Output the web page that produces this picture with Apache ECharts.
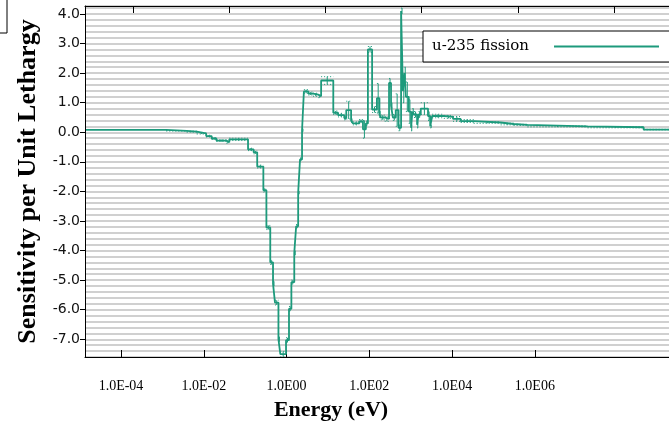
<!DOCTYPE html>
<html>
<head>
<meta charset="utf-8">
<script src="https://cdn.jsdelivr.net/npm/echarts@6/dist/echarts.min.js"></script>
<style>
  html, body { margin: 0; padding: 0; background: #fff; }
  #chart { width: 669px; height: 426px; }
</style>
</head>
<body>
<div id="chart"></div>
<script>
// 分组下限能量 (eV)，灵敏度，误差
var binLow = [
  1.0e-5, 4.9e-4, 1.3e-3, 2.1e-3, 3.3e-3, 4.3e-3, 5.4e-3, 8.7e-3, 1.0e-2, 2.45e-2,
  3.2e-2, 3.8e-2, 5.1e-2, 5.9e-2, 7.1e-2, 8.1e-2, 8.9e-2, 0.105, 0.115, 0.151,
  0.174, 0.195, 0.224, 0.245, 0.27, 0.295, 0.325, 0.355, 0.44, 0.55,
  0.71, 0.81, 1.45, 1.82, 2.45, 2.7, 3.4, 3.7, 5.0, 6.0,
  6.9, 7.6, 9.3, 11.7, 13.2, 14.1, 17.0, 20.9, 23.0, 25.1,
  28.8, 33.0, 37.2, 40.7, 44.0, 46.8, 53.7, 60.0, 64.0, 69.2,
  80.0, 86.0, 95.5, 135, 150, 165, 288, 447, 646, 1200,
  4370, 8130, 15800, 2.8e5, 4.1e6
];
var binTop = 2.0e7;
var sensitivity = [
  0.08, 0.05, 0.02, -0.04, -0.13, -0.21, -0.28, -0.34, -0.24, -0.58,
  -0.68, -1.16, -1.96, -3.22, -4.40, -5.12, -5.76, -7.0, -7.5, -7.03,
  -5.97, -5.07, -4.08, -3.18, -2.04, -0.92, 0.07, 1.38, 1.31, 1.27,
  1.22, 1.75, 0.66, 0.58, 0.48, 0.75, 0.4, 0.3, 0.37, 0.1,
  0.3, 2.8, 0.77, 1.15, 0.6, 0.5, 0.45, 1.67, 0.9, 0.5,
  0.75, 0.15, 4.1, 1.4, 2.0, 1.2, 0.7, 0.15, 0.7, 0.6,
  0.25, 0.6, 0.8, 0.55, 0.2, 0.55, 0.52, 0.45, 0.38, 0.33,
  0.28, 0.25, 0.2, 0.17, 0.09
];
var sensError = [
  0, 0.01, 0.02, 0.02, 0.03, 0.03, 0.03, 0.03, 0.04, 0.04,
  0.05, 0.05, 0.06, 0.07, 0.07, 0.08, 0.08, 0.08, 0.09, 0.08,
  0.08, 0.07, 0.07, 0.06, 0.05, 0.05, 0.05, 0.06, 0.05, 0.05,
  0.05, 0.13, 0.06, 0.06, 0.06, 0.3, 0.06, 0.05, 0.06, 0.3,
  0.08, 0.1, 0.1, 0.5, 0.1, 0.08, 0.08, 0.15, 0.1, 0.1,
  0.55, 0.1, 0.1, 0.4, 0.2, 0.5, 0.4, 0.1, 0.1, 0.1,
  0.1, 0.1, 0.2, 0.15, 0.05, 0.06, 0.05, 0.08, 0.05, 0.03,
  0.03, 0.02, 0.02, 0.02, 0.01
];

// 坐标轴刻度
var tickExps = [-4, -2, 0, 2, 4, 6];
var tickLabels = ['1.0E-04', '1.0E-02', '1.0E00', '1.0E02', '1.0E04', '1.0E06'];
var yTicks = [-7, -6, -5, -4, -3, -2, -1, 0, 1, 2, 3, 4];

var lineColor = '#1d9a7c';

// 阶梯线数据（对数能量）
var stepData = [];
var errData = [];
for (var i = 0; i < binLow.length; i++) {
  var lo = Math.log10(binLow[i]);
  var hi = Math.log10(i + 1 < binLow.length ? binLow[i + 1] : binTop);
  stepData.push([lo, sensitivity[i]]);
  if (sensError[i] > 0) {
    errData.push([lo, hi, sensitivity[i], sensError[i]]);
  }
}
stepData.push([Math.log10(binTop), sensitivity[sensitivity.length - 1]]);

function renderErrorBar(params, api) {
  var lo = api.value(0), hi = api.value(1), v = api.value(2), e = api.value(3);
  var mid = (lo + hi) / 2;
  var top = api.coord([mid, v + e]);
  var bot = api.coord([mid, v - e]);
  var a = api.coord([lo, v + e]), b = api.coord([hi, v + e]);
  var c = api.coord([lo, v - e]), d = api.coord([hi, v - e]);
  var dashed = { stroke: lineColor, lineWidth: 1, lineDash: [1, 2] };
  return {
    type: 'group',
    children: [
      { type: 'line', shape: { x1: top[0], y1: top[1], x2: bot[0], y2: bot[1] },
        style: { stroke: lineColor, lineWidth: 1 } },
      { type: 'line', shape: { x1: a[0], y1: a[1], x2: b[0], y2: b[1] }, style: dashed },
      { type: 'line', shape: { x1: c[0], y1: c[1], x2: d[0], y2: d[1] }, style: dashed }
    ]
  };
}

var chart = echarts.init(document.getElementById('chart'));

chart.setOption({
  animation: false,
  backgroundColor: '#fff',
  grid: { left: 85, right: 0, top: 6, bottom: 67.5 },
  graphic: [
    { type: 'rect', shape: { x: -5, y: -5, width: 12, height: 38 },
      style: { fill: '#fff', stroke: '#000', lineWidth: 1 } }
  ],
  legend: {
    left: 423,
    top: 31,
    align: 'right',
    icon: 'rect',
    itemWidth: 105,
    itemHeight: 2,
    padding: [8, 20, 8, 9],
    borderColor: '#000',
    borderWidth: 1,
    borderRadius: 0,
    backgroundColor: '#fff',
    textStyle: { fontFamily: 'DejaVu Serif', fontSize: 15, color: '#000', padding: [0, 20, 0, 0] },
    data: ['u-235 fission']
  },
  xAxis: [
    {
      // 下方刻度标签轴
      type: 'value',
      position: 'bottom',
      min: -4.87,
      max: 9.24,
      name: 'Energy (eV)',
      nameLocation: 'middle',
      nameGap: 42,
      nameTextStyle: {
        fontFamily: 'Liberation Serif', fontWeight: 'bold', fontSize: 22,
        color: '#000', padding: [0, 92, 0, 0]
      },
      axisLine: { show: true, onZero: false, lineStyle: { color: '#000', width: 1 } },
      axisTick: { show: true, inside: true, length: 7, customValues: tickExps,
        lineStyle: { color: '#000' } },
      axisLabel: {
        customValues: tickExps,
        margin: 22,
        fontFamily: 'Liberation Serif', fontSize: 14, color: '#000',
        formatter: function(v) {
          var k = tickExps.indexOf(Math.round(v));
          return k >= 0 ? tickLabels[k] : '';
        }
      },
      splitLine: { show: false }
    },
    {
      // 数据所在的能量轴（上方）
      type: 'value',
      position: 'top',
      min: -5,
      max: 7.14,
      axisLine: { show: true, onZero: false, lineStyle: { color: '#000', width: 1 } },
      axisTick: { show: true, inside: true, length: 7, customValues: tickExps,
        lineStyle: { color: '#000' } },
      axisLabel: { show: false },
      splitLine: { show: false }
    }
  ],
  yAxis: [
    {
      type: 'value',
      min: -7.6,
      max: 4.27,
      name: 'Sensitivity per Unit Lethargy',
      nameLocation: 'middle',
      nameGap: 44,
      nameTextStyle: {
        fontFamily: 'Liberation Serif', fontWeight: 'bold', fontSize: 26, color: '#000'
      },
      axisLine: { show: true, onZero: false, lineStyle: { color: '#000', width: 1 } },
      axisTick: { show: true, length: 5, customValues: yTicks, lineStyle: { color: '#000' } },
      axisLabel: {
        customValues: yTicks,
        margin: 5,
        fontFamily: 'DejaVu Sans', fontSize: 14, color: '#111',
        formatter: function(v) { return v.toFixed(1); }
      },
      splitLine: { show: false },
      z: 5
    },
    {
      // 只用来画 0.2 间隔的网格线
      type: 'value',
      position: 'left',
      min: -7.6,
      max: 4.27,
      interval: 0.2,
      axisLine: { show: false },
      axisTick: { show: false },
      axisLabel: { show: false },
      splitLine: { show: true, lineStyle: { color: '#d0d0d0', width: 2 } }
    }
  ],
  series: [
    {
      name: 'u-235 fission',
      type: 'line',
      xAxisIndex: 1,
      step: 'end',
      symbol: 'none',
      data: stepData,
      lineStyle: { color: lineColor, width: 1.8 },
      itemStyle: { color: lineColor },
      z: 3
    },
    {
      name: 'err',
      type: 'custom',
      xAxisIndex: 1,
      clip: true,
      renderItem: renderErrorBar,
      encode: { x: [0, 1], y: 2 },
      data: errData,
      z: 2
    }
  ]
});
</script>
</body>
</html>
